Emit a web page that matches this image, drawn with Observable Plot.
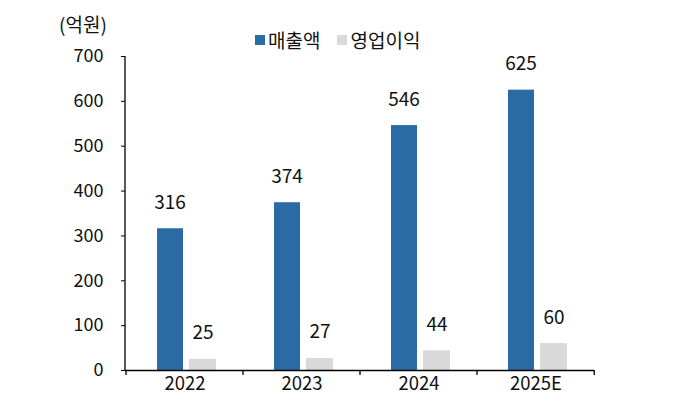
<!DOCTYPE html>
<html><head><meta charset="utf-8">
<script src="https://cdn.jsdelivr.net/npm/d3@7"></script>
<script src="https://cdn.jsdelivr.net/npm/@observablehq/plot@0.6"></script>
<style>
body{margin:0;background:#fff;font-family:"Noto Sans CJK KR","Noto Sans",sans-serif;color:#111;}
#wrap{position:relative;width:680px;height:408px;}
#unit{position:absolute;left:59px;top:10px;font-size:19px;}
#legend{position:absolute;top:26px;left:255px;font-size:19px;display:flex;align-items:center;}
#legend span.sw{width:10px;height:10px;display:inline-block;margin-right:3px;}
#legend span.lab{margin-right:17px;}
</style></head><body>
<div id="wrap"><div id="chart"></div><div id="unit">(억원)</div><div id="legend"></div></div>
<script>
const years = ["2022", "2023", "2024", "2025E"];
const revenue = [316, 374, 546, 625];
const profit = [25, 27, 44, 60];
const seriesNames = ["매출액", "영업이익"];
const colors = ["#2b6ba5", "#d9d9d9"];
const yTicks = [0, 100, 200, 300, 400, 500, 600, 700];
const unitLabel = "(억원)";

const revRows = years.map((year, i) => ({year, value: revenue[i]}));
const proRows = years.map((year, i) => ({year, value: profit[i]}));

document.getElementById("unit").textContent = unitLabel;
const leg = document.getElementById("legend");
seriesNames.forEach((n, i) => {
  const s = document.createElement("span"); s.className = "sw"; s.style.background = colors[i];
  const t = document.createElement("span"); t.className = "lab"; t.textContent = n;
  leg.appendChild(s); leg.appendChild(t);
});

function axisLines(index, scales, values, dims) {
  const g = d3.create("svg:g").attr("stroke", "#000").attr("stroke-width", 1.3);
  const x = scales.x, y = scales.y;
  const bw = (dims.width - dims.marginLeft - dims.marginRight) / years.length;
  const y0 = y(0);
  const bounds = years.map(d => x(d)).concat([x(years[years.length - 1]) + bw]);
  bounds.forEach(b => g.append("line").attr("x1", b).attr("x2", b).attr("y1", y0).attr("y2", y0 + 5));
  g.append("line").attr("x1", dims.marginLeft).attr("x2", dims.marginLeft)
    .attr("y1", y(yTicks[yTicks.length - 1])).attr("y2", y0);
  return g.node();
}

const chart = Plot.plot({
  width: 680,
  height: 408,
  marginTop: 56,
  marginBottom: 38,
  marginLeft: 125,
  marginRight: 86,
  style: {fontFamily: '"Noto Sans CJK KR","Noto Sans",sans-serif', color: "#111", background: "#fff"},
  x: {domain: years, padding: 0},
  y: {domain: [0, 700]},
  marks: [
    Plot.barY(revRows, {x: "year", y: "value", fill: colors[0], insetLeft: 31, insetRight: 60}),
    Plot.barY(proRows, {x: "year", y: "value", fill: colors[1], insetLeft: 63, insetRight: 27}),
    Plot.text(revRows, {x: "year", y: "value", text: d => String(d.value), dx: -15, dy: -26, fontSize: 19, fill: "#111"}),
    Plot.text(proRows, {x: "year", y: "value", text: d => String(d.value), dx: 18, dy: -26, fontSize: 19, fill: "#111"}),
    Plot.ruleY([0], {stroke: "#000", strokeWidth: 1.3}),
    Plot.axisY(yTicks, {tickSize: 4, tickPadding: 18, fontSize: 18, stroke: "#000", label: null}),
    Plot.axisX({tickSize: 0, tickPadding: 6, fontSize: 18.5, label: null}),
    axisLines
  ]
});
document.getElementById("chart").appendChild(chart);
</script>
</body></html>
